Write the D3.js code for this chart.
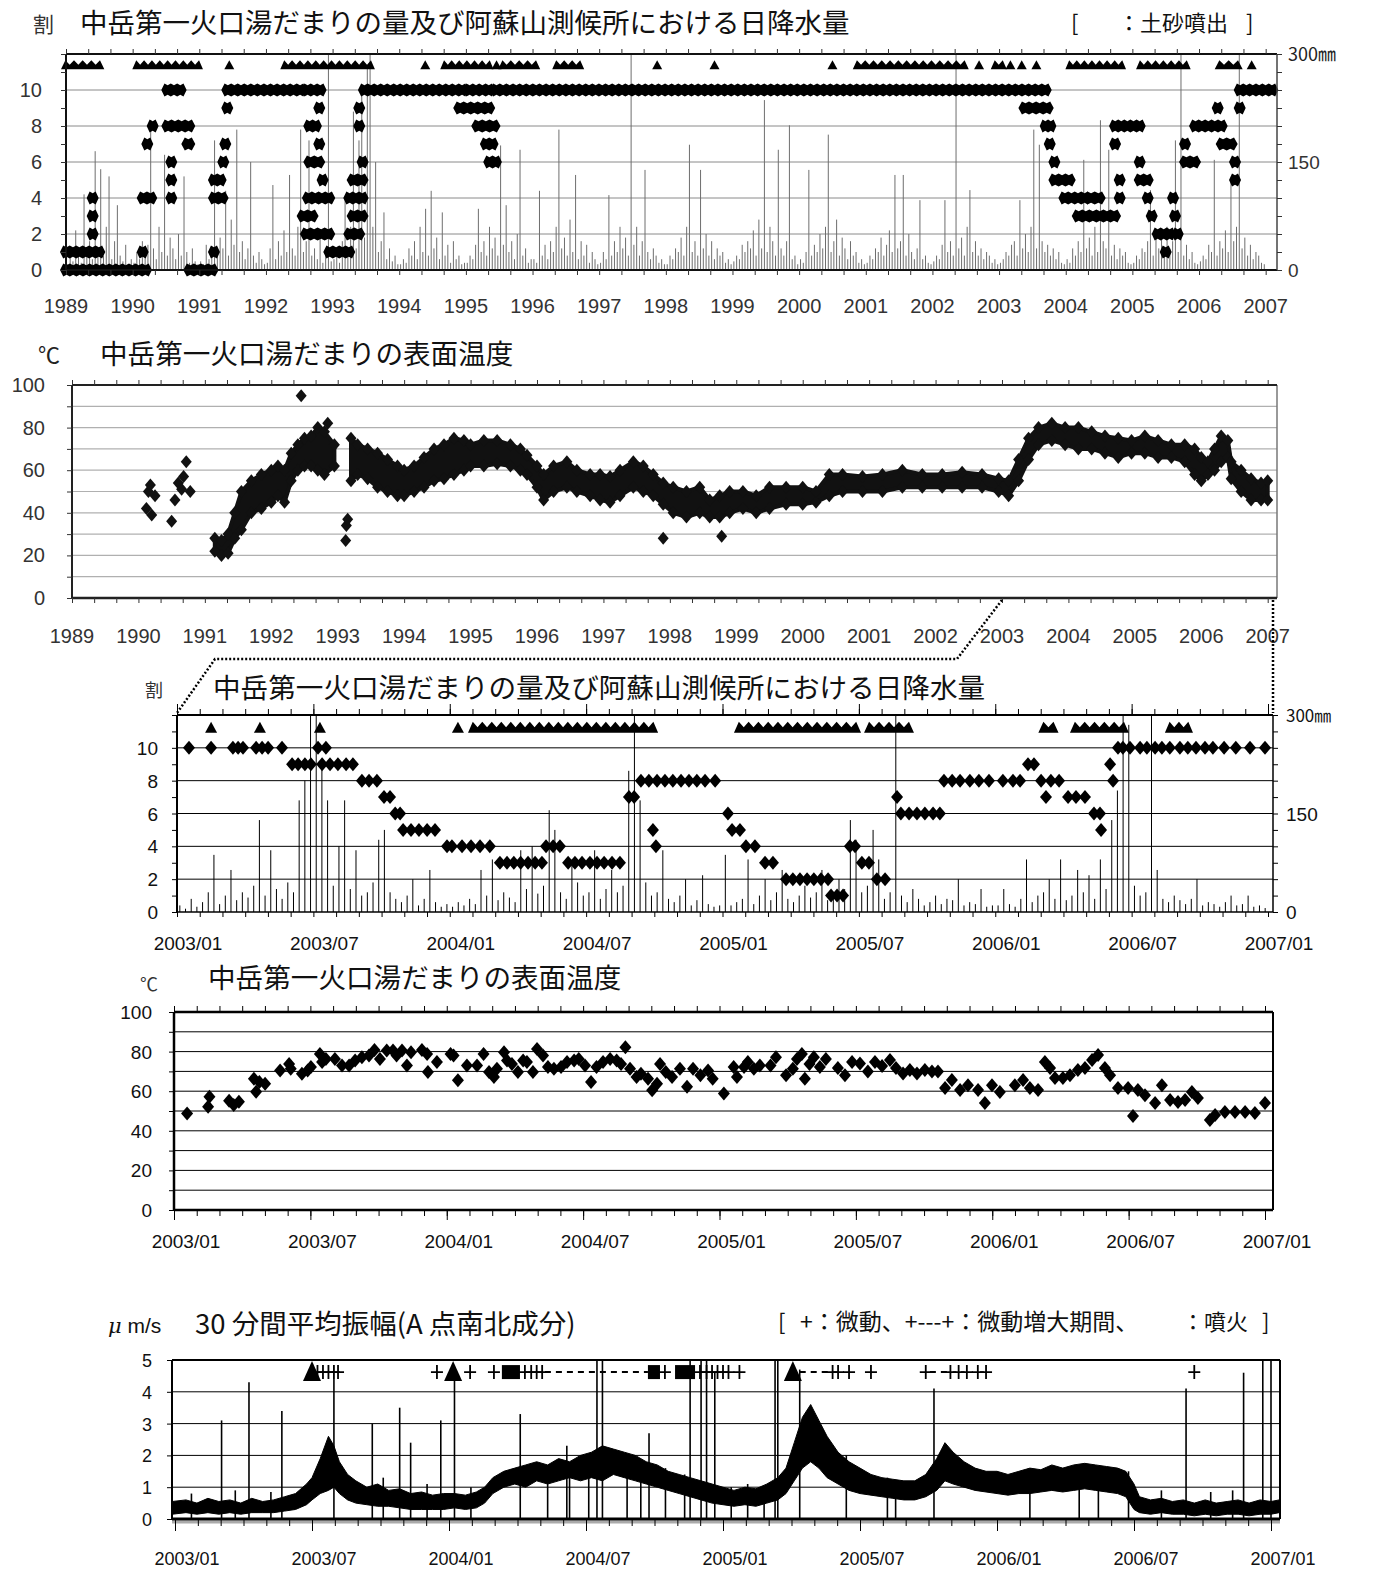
<!DOCTYPE html>
<html>
<head>
<meta charset="utf-8">
<script src="https://cdn.jsdelivr.net/npm/d3@7"></script>
<style>
  body { margin: 0; background: #fff; }
  text { font-family: "Liberation Sans", Arial, sans-serif; }
  .jp { font-family: "Noto Sans CJK JP", "Noto Sans CJK SC", sans-serif; }
  .narrow { font-family: "Liberation Sans Narrow", "Liberation Sans", Arial, sans-serif; }
</style>
</head>
<body>
<svg id="chart" width="1373" height="1585"></svg>
<script>
// ---------- data (decimal years) ----------
var yearLabels = ['1989','1990','1991','1992','1993','1994','1995','1996','1997','1998','1999','2000','2001','2002','2003','2004','2005','2006','2007'];
var monthLabels = ['2003/01','2003/07','2004/01','2004/07','2005/01','2005/07','2006/01','2006/07','2007/01'];

// panel 1: lake water level runs [from, to, level(割)]
var levelRuns = [
  [1989.0,1990.2,0],[1989.0,1989.5,1],[1989.4,1989.4,2],[1989.4,1989.4,3],[1989.4,1989.4,4],
  [1990.15,1990.15,1],[1990.15,1990.28,4],[1990.22,1990.22,7],[1990.3,1990.3,8],
  [1990.52,1990.72,10],[1990.52,1990.85,8],[1990.58,1990.58,6],[1990.58,1990.58,5],[1990.58,1990.58,4],[1990.82,1990.85,7],
  [1990.85,1991.2,0],[1991.22,1991.32,5],[1991.22,1991.35,4],[1991.22,1991.22,1],[1991.36,1991.36,6],[1991.39,1991.39,7],[1991.42,1991.42,9],
  [1991.42,1992.52,10],[1992.62,1992.82,10],
  [1992.55,1992.7,3],[1992.6,1992.95,2],[1992.63,1992.95,4],[1992.85,1992.85,5],[1992.65,1992.8,6],[1992.8,1992.8,7],[1992.65,1992.75,8],[1992.8,1992.8,9],
  [1992.95,1993.25,1],[1993.25,1993.4,2],[1993.3,1993.45,3],[1993.25,1993.45,4],[1993.3,1993.45,5],[1993.45,1993.45,6],[1993.4,1993.4,8],[1993.4,1993.4,9],
  [1993.47,1994.95,10],[1995.05,1995.35,10],[1994.9,1995.35,9],[1995.17,1995.43,8],[1995.3,1995.4,7],[1995.35,1995.45,6],
  [1995.45,2003.7,10],
  [2003.38,2003.73,9],[2003.7,2003.77,8],[2003.76,2003.76,7],[2003.83,2003.83,6],[2003.83,2004.06,5],[2003.98,2004.29,4],[2004.18,2004.74,3],[2004.36,2004.51,4],
  [2004.74,2005.11,8],[2004.74,2004.74,7],[2004.81,2004.81,5],[2004.81,2004.81,4],[2005.11,2005.11,6],[2005.11,2005.23,5],[2005.23,2005.23,4],[2005.29,2005.29,3],
  [2005.38,2005.56,2],[2005.5,2005.5,1],[2005.61,2005.61,4],[2005.64,2005.64,3],[2005.68,2005.68,2],
  [2005.79,2005.79,7],[2005.79,2005.94,6],[2005.94,2006.34,8],[2006.28,2006.28,9],[2006.34,2006.49,7],[2006.54,2006.54,6],[2006.54,2006.54,5],
  [2006.61,2006.61,9],[2006.61,2007.1,10]
];
// panel 1: mud ejection (土砂噴出) runs [from, to]
var mudRuns1 = [
  [1989.0,1989.5],[1990.07,1990.98],[1991.45,1991.45],[1992.29,1993.56],[1994.39,1994.39],[1994.69,1995.34],[1995.46,1995.46],
  [1995.56,1996.04],[1996.37,1996.7],[1997.87,1997.87],[1998.73,1998.73],[2000.5,2000.5],[2000.88,2002.47],[2002.7,2002.7],
  [2002.95,2003.04],[2003.17,2003.17],[2003.34,2003.34],[2003.56,2003.56],[2004.07,2004.83],[2005.13,2005.8],[2006.31,2006.58],[2006.79,2006.79]
];
// panel 1: daily rainfall, peak per half month (mm)
var rainYears = [1989,1990,1991,1992,1993,1994,1995,1996,1997,1998,1999,2000,2001,2002,2003,2004,2005,2006];
var rain89 = [8,30,12,55,20,10,105,25,40,15,165,30,140,20,60,130,15,40,90,20,12,35,8,15];
var rain90 = [10,25,15,40,20,35,208,30,15,60,25,160,20,45,30,15,50,20,130,25,10,30,12,8];
var rain91 = [12,8,35,15,25,180,20,45,30,110,20,70,35,195,25,40,15,30,150,20,10,25,15,8];
var rain92 = [10,30,118,15,40,20,55,25,132,30,20,60,195,25,40,180,20,30,15,45,10,25,330,12];
var rain93 = [15,25,10,40,97,20,60,220,30,180,250,45,280,330,60,150,25,40,80,15,30,12,20,8];
var rain94 = [8,15,10,30,20,40,15,60,25,85,20,110,30,45,15,80,20,35,10,40,15,20,8,10];
var rain95 = [10,20,15,35,85,25,40,20,60,30,45,20,173,35,90,25,40,15,50,167,20,30,10,15];
var rain96 = [15,10,110,20,35,15,40,25,60,195,30,45,20,70,25,132,15,40,20,35,10,25,15,8];
var rain97 = [10,25,15,104,20,40,25,60,30,45,20,330,35,60,20,40,139,25,15,30,20,10,15,8];
var rain98 = [8,20,15,30,25,45,20,60,174,25,40,20,139,30,50,20,40,15,30,20,25,10,15,8];
var rain99 = [12,20,15,35,25,40,30,55,20,70,30,236,25,60,40,20,167,30,20,40,201,15,20,8];
var rain00 = [15,10,25,139,20,35,25,50,30,60,188,25,40,70,20,45,30,15,40,20,25,10,15,8];
var rain01 = [10,20,15,30,25,45,20,35,55,25,132,30,40,132,20,50,25,15,30,97,15,20,10,8];
var rain02 = [12,20,15,35,97,25,40,20,330,30,45,20,60,111,25,40,20,30,15,25,20,10,15,8];
var rain03 = [10,15,25,20,35,40,20,97,30,50,25,60,195,30,174,40,25,35,20,30,15,25,10,8];
var rain04 = [15,10,30,20,40,25,153,30,45,20,60,25,208,40,30,167,20,35,15,30,20,25,10,8];
var rain05 = [10,20,15,30,25,40,111,20,45,30,55,25,60,30,40,180,25,330,20,35,15,25,10,8];
var rain06 = [12,20,15,35,25,153,20,40,30,55,25,125,40,60,330,30,45,20,35,15,25,20,10,8];

// panel 2: surface temperature, dense cloud [year, low, high]; null = no data
var tempBand = [
  [1991.15,22,28],[1991.25,20,27],[1991.35,21,30],[1991.45,28,40],[1991.55,32,50],[1991.7,40,55],[1991.85,42,58],[1992.0,45,60],
  [1992.1,48,62],[1992.2,45,60],[1992.3,55,68],[1992.4,60,72],[1992.5,62,75],[1992.6,62,76],[1992.7,60,80],[1992.8,58,78],[1992.95,62,72],
  [1993.05,null,null],
  [1993.2,55,75],[1993.3,58,72],[1993.45,56,70],[1993.6,52,68],[1993.75,50,65],[1993.9,48,62],[1994.0,48,60],[1994.15,50,62],[1994.3,52,66],
  [1994.45,55,70],[1994.6,56,72],[1994.75,58,75],[1994.9,60,74],[1995.0,62,72],[1995.2,62,74],[1995.4,63,74],[1995.6,62,72],[1995.75,60,70],
  [1995.85,58,67],[1996.0,52,62],[1996.1,46,58],[1996.25,50,62],[1996.45,52,64],[1996.6,50,60],[1996.8,48,58],[1996.95,46,58],[1997.1,45,57],
  [1997.25,48,60],[1997.45,52,64],[1997.6,50,62],[1997.75,48,58],[1997.9,44,54],[1998.05,40,52],[1998.25,38,50],[1998.45,40,52],[1998.6,38,46],
  [1998.75,38,48],[1998.9,40,50],[1999.1,42,50],[1999.3,40,48],[1999.5,42,52],[1999.75,44,52],[2000.0,44,52],[2000.2,45,50],[2000.4,48,58],
  [2000.6,50,58],[2000.9,50,57],[2001.2,50,58],[2001.5,52,60],[2001.8,52,58],[2002.1,52,58],[2002.4,52,59],[2002.7,52,58],[2002.95,50,56],
  [2003.1,48,55],[2003.25,55,65],[2003.4,65,75],[2003.55,72,80],[2003.75,74,82],[2003.95,72,80],[2004.15,70,80],[2004.35,70,78],[2004.55,68,76],
  [2004.75,66,75],[2004.95,68,74],[2005.15,68,76],[2005.35,66,74],[2005.55,66,72],[2005.75,64,72],[2005.9,58,70],[2006.0,55,66],[2006.1,58,64],
  [2006.2,60,70],[2006.3,64,76],[2006.4,66,74],[2006.45,56,64],[2006.6,50,60],[2006.75,46,56],[2006.9,46,54],[2007.0,46,55]
];
var tempScatter = [
  [1990.12,42],[1990.15,50],[1990.18,53],[1990.2,39],[1990.25,48],[1990.5,36],[1990.55,46],[1990.6,54],[1990.65,51],[1990.68,57],
  [1990.72,64],[1990.78,50],[1992.45,95],[1992.85,82],[1993.12,27],[1993.13,34],[1993.15,37],[1997.9,28],[1998.78,29]
];

// panel 3: water level 2003-2006 [year, level]
var level3 = [
  [2003.044,10],[2003.125,10],[2003.205,10],[2003.224,10],[2003.242,10],[2003.29,10],[2003.312,10],[2003.334,10],[2003.385,10],[2003.517,10],[2003.546,10],
  [2003.422,9],[2003.444,9],[2003.469,9],[2003.491,9],[2003.532,9],[2003.561,9],[2003.59,9],[2003.62,9],[2003.645,9],
  [2003.678,8],[2003.704,8],[2003.733,8],[2003.759,7],[2003.781,7],[2003.8,6],[2003.818,6],
  [2003.829,5],[2003.858,5],[2003.887,5],[2003.917,5],[2003.946,5],
  [2003.99,4],[2004.008,4],[2004.045,4],[2004.078,4],[2004.111,4],[2004.147,4],
  [2004.184,3],[2004.21,3],[2004.235,3],[2004.26,3],[2004.287,3],[2004.313,3],[2004.338,3],
  [2004.353,4],[2004.379,4],[2004.404,4],
  [2004.434,3],[2004.459,3],[2004.485,3],[2004.514,3],[2004.54,3],[2004.566,3],[2004.595,3],[2004.624,3],
  [2004.657,7],[2004.676,7],
  [2004.701,8],[2004.73,8],[2004.76,8],[2004.789,8],[2004.818,8],[2004.848,8],[2004.877,8],[2004.906,8],[2004.936,8],[2004.973,8],
  [2004.745,5],[2004.756,4],
  [2005.02,6],[2005.035,5],[2005.064,5],[2005.086,4],[2005.119,4],[2005.156,3],[2005.185,3],
  [2005.233,2],[2005.258,2],[2005.284,2],[2005.31,2],[2005.335,2],[2005.361,2],[2005.387,2],
  [2005.398,1],[2005.42,1],[2005.442,1],[2005.467,4],[2005.486,4],[2005.511,3],[2005.537,3],[2005.566,2],[2005.596,2],
  [2005.64,7],[2005.654,6],[2005.684,6],[2005.713,6],[2005.742,6],[2005.772,6],[2005.797,6],
  [2005.812,8],[2005.842,8],[2005.871,8],[2005.907,8],[2005.94,8],[2005.977,8],[2006.028,8],[2006.065,8],[2006.091,8],
  [2006.12,9],[2006.142,9],[2006.168,8],[2006.204,8],[2006.234,8],[2006.186,7],
  [2006.267,7],[2006.296,7],[2006.329,7],[2006.362,6],[2006.384,6],[2006.388,5],[2006.421,9],[2006.432,8],
  [2006.45,10],[2006.468,10],[2006.494,10],[2006.531,10],[2006.556,10],[2006.586,10],[2006.611,10],[2006.64,10],[2006.677,10],
  [2006.706,10],[2006.736,10],[2006.769,10],[2006.798,10],[2006.839,10],[2006.882,10],[2006.934,10],[2006.989,10]
];
var mudRuns3 = [
  [2003.125,2003.125],[2003.304,2003.304],[2003.524,2003.524],[2004.03,2004.03],[2004.089,2004.742],[2005.064,2005.486],
  [2005.541,2005.68],[2006.18,2006.21],[2006.296,2006.468],[2006.644,2006.703]
];
// panel 3: rainfall, peak per week (mm)
var rain3Years = [2003,2004,2005,2006];
var rain3_03 = [10,5,20,8,15,30,87,12,25,64,18,30,22,40,140,25,94,35,20,45,30,170,200,330,330,230,170,40,100,170,35,94,25,30,45,110,125,30,20,15,25,50,10,20,64,15,8,12];
var rain3_04 = [8,15,10,20,12,64,25,80,18,30,22,15,94,35,100,28,40,155,125,30,20,80,45,25,30,94,20,35,64,30,40,215,330,170,45,25,30,94,20,15,25,50,10,18,56,12,8,10];
var rain3_05 = [87,10,15,20,80,12,25,50,18,30,64,20,15,25,40,22,30,64,18,25,50,35,140,110,30,40,125,80,20,30,330,25,15,35,20,10,15,25,12,20,18,50,10,15,12,35,8,10];
var rain3_06 = [10,35,12,8,20,80,15,25,30,50,20,80,18,25,64,30,56,20,80,35,140,185,330,285,40,25,30,330,64,20,15,25,18,12,20,50,10,15,12,8,15,25,10,12,25,8,10,6];

// panel 4: surface temperature 2003-2006 [year, degC]
var temp4 = [
  [2003.048,48.8],[2003.125,52.2],[2003.13,57.2],[2003.202,55.2],[2003.219,53],[2003.238,54.7],[2003.293,66.3],[2003.301,59.7],[2003.313,64.7],
  [2003.334,63.8],[2003.389,70.5],[2003.422,73.8],[2003.428,71.3],[2003.469,68.8],[2003.49,70.5],[2003.502,72.2],[2003.535,78.8],[2003.543,74.7],
  [2003.557,76.3],[2003.59,76.3],[2003.616,73],[2003.642,73],[2003.664,75.5],[2003.689,77.2],[2003.715,78],[2003.735,80.8],[2003.755,76.3],
  [2003.78,80.5],[2003.803,80.5],[2003.816,78],[2003.836,80.5],[2003.854,73],[2003.869,79.7],[2003.909,80.8],[2003.928,78.8],[2003.931,69.7],
  [2003.964,74.7],[2004.014,78.8],[2004.025,78],[2004.041,65.5],[2004.074,73],[2004.111,73],[2004.135,78.8],[2004.155,69.7],[2004.173,67.2],
  [2004.184,71.3],[2004.21,79.7],[2004.221,75.5],[2004.239,73.8],[2004.261,69.7],[2004.28,75.5],[2004.294,74.7],[2004.316,69.7],[2004.331,81.3],
  [2004.353,78],[2004.371,72.2],[2004.393,71.3],[2004.419,72.2],[2004.441,74.7],[2004.467,75.5],[2004.484,76.3],[2004.507,73],[2004.529,64.7],
  [2004.549,72.2],[2004.573,74.7],[2004.599,76.3],[2004.623,75.5],[2004.639,73.8],[2004.655,82.2],[2004.672,71.3],[2004.696,67.2],[2004.712,68.8],
  [2004.738,66.3],[2004.753,60.5],[2004.771,63.8],[2004.782,73.8],[2004.803,69.7],[2004.826,67.2],[2004.855,71.3],[2004.881,62.2],[2004.903,71.3],
  [2004.93,68],[2004.958,70.5],[2004.975,66.3],[2005.016,58.8],[2005.052,72.2],[2005.064,67.2],[2005.09,72.2],[2005.104,74.7],[2005.126,71.3],
  [2005.148,73],[2005.187,73],[2005.207,77.2],[2005.244,68],[2005.269,71.3],[2005.284,76.3],[2005.302,78.8],[2005.313,66.3],[2005.33,73.8],
  [2005.346,77.2],[2005.368,72.2],[2005.39,76.3],[2005.434,71.7],[2005.46,68],[2005.486,74.7],[2005.515,74],[2005.544,70],[2005.57,74.7],
  [2005.596,72.7],[2005.625,75.8],[2005.647,71.7],[2005.673,69],[2005.698,70.7],[2005.724,69],[2005.753,70.7],[2005.779,70],[2005.801,70],
  [2005.827,61.6],[2005.852,65.7],[2005.882,60.6],[2005.911,63],[2005.948,60.6],[2005.973,54],[2005.999,63],[2006.028,59.6],[2006.083,63],
  [2006.113,65.7],[2006.138,61.6],[2006.168,60.6],[2006.193,74.7],[2006.212,71.7],[2006.23,66.7],[2006.259,66.7],[2006.285,68],[2006.314,70.7],
  [2006.34,71.7],[2006.366,75.8],[2006.388,78.3],[2006.413,71.7],[2006.432,68],[2006.461,61.6],[2006.498,61.6],[2006.516,47.5],[2006.534,60.6],
  [2006.56,58],[2006.597,54],[2006.622,63],[2006.652,55.6],[2006.681,54.5],[2006.707,55.6],[2006.732,59.6],[2006.754,56.6],[2006.798,45.5],
  [2006.817,48],[2006.853,49.5],[2006.89,49.5],[2006.927,49.5],[2006.963,49],[2007.0,54]
];

// panel 5: 30-min mean amplitude envelope [year, low, high] (μm/s)
var ampBand = [
  [2002.99,0.15,0.55],[2003.04,0.2,0.6],[2003.08,0.15,0.5],[2003.12,0.2,0.65],[2003.16,0.15,0.55],[2003.2,0.2,0.6],[2003.24,0.15,0.5],
  [2003.28,0.2,0.65],[2003.32,0.2,0.55],[2003.36,0.2,0.6],[2003.4,0.25,0.7],[2003.44,0.3,0.8],[2003.48,0.45,1.1],[2003.5,0.6,1.3],
  [2003.53,0.8,1.9],[2003.56,0.9,2.6],[2003.58,1.0,2.3],[2003.6,0.8,1.8],[2003.63,0.6,1.4],[2003.66,0.5,1.2],[2003.7,0.45,1.0],
  [2003.74,0.4,1.1],[2003.78,0.4,0.9],[2003.82,0.35,0.95],[2003.86,0.3,0.8],[2003.9,0.3,0.85],[2003.94,0.3,0.75],[2003.98,0.3,0.8],
  [2004.02,0.35,0.8],[2004.06,0.3,0.75],[2004.1,0.35,0.85],[2004.13,0.5,1.0],[2004.16,0.8,1.3],[2004.2,1.0,1.5],[2004.24,1.1,1.6],
  [2004.28,1.0,1.7],[2004.32,1.2,1.8],[2004.36,1.1,1.7],[2004.4,1.2,1.9],[2004.44,1.3,1.8],[2004.48,1.2,2.0],[2004.52,1.3,2.1],
  [2004.56,1.2,2.3],[2004.6,1.4,2.2],[2004.64,1.3,2.1],[2004.68,1.2,2.0],[2004.72,1.1,1.8],[2004.76,1.0,1.7],[2004.8,0.9,1.5],
  [2004.84,0.8,1.4],[2004.88,0.7,1.3],[2004.92,0.6,1.2],[2004.96,0.5,1.1],[2005.0,0.45,1.0],[2005.04,0.4,0.9],[2005.08,0.45,1.0],
  [2005.12,0.4,0.95],[2005.16,0.5,1.1],[2005.2,0.6,1.3],[2005.23,0.8,1.6],[2005.26,1.2,2.4],[2005.29,1.6,3.2],[2005.32,1.8,3.6],
  [2005.35,1.6,3.1],[2005.38,1.3,2.6],[2005.42,1.1,2.1],[2005.46,0.9,1.8],[2005.5,0.8,1.6],[2005.54,0.75,1.4],[2005.58,0.7,1.3],
  [2005.62,0.65,1.25],[2005.66,0.6,1.2],[2005.7,0.6,1.2],[2005.74,0.7,1.4],[2005.78,0.9,1.9],[2005.81,1.2,2.4],[2005.84,1.1,2.1],
  [2005.88,1.0,1.8],[2005.92,0.9,1.6],[2005.96,0.85,1.5],[2006.0,0.8,1.5],[2006.04,0.75,1.4],[2006.08,0.8,1.5],[2006.12,0.8,1.6],
  [2006.16,0.85,1.55],[2006.2,0.9,1.7],[2006.24,0.85,1.6],[2006.28,0.9,1.7],[2006.32,0.95,1.75],[2006.36,0.9,1.7],[2006.4,0.85,1.65],
  [2006.44,0.8,1.6],[2006.47,0.7,1.5],[2006.5,0.3,1.1],[2006.52,0.2,0.7],[2006.56,0.15,0.6],[2006.6,0.2,0.65],[2006.64,0.15,0.55],
  [2006.68,0.15,0.6],[2006.72,0.1,0.5],[2006.76,0.15,0.6],[2006.8,0.1,0.5],[2006.84,0.15,0.55],[2006.88,0.15,0.6],[2006.92,0.1,0.5],
  [2006.96,0.15,0.6],[2007.0,0.15,0.55],[2007.03,0.2,0.6]
];
// single spikes [year, value]
var ampSpikes = [
  [2003.17,3.1],[2003.27,4.3],[2003.39,3.4],[2003.58,4.4],[2003.72,3.0],[2003.82,3.5],[2003.86,2.4],[2003.97,3.1],[2004.02,4.6],
  [2004.26,3.3],[2004.43,2.3],[2004.54,5.3],[2004.56,5.3],[2004.73,2.7],[2004.88,5.3],[2004.92,5.3],[2004.94,5.3],[2004.97,4.6],
  [2005.19,5.3],[2005.2,5.3],[2005.28,4.7],[2005.77,4.1],[2006.69,4.1],[2006.9,4.6],[2006.97,5.3],[2007.0,5.3],
  [2004.36,1.6],[2004.44,1.7],[2004.51,2.0],[2004.65,1.9],[2004.7,1.8],[2004.79,1.6],[2004.86,1.4],[2005.03,1.0],[2005.09,1.1],
  [2005.15,1.0],[2005.45,2.0],[2005.6,1.3],[2005.63,1.2],[2006.12,1.5],[2006.3,1.6],[2006.37,1.6],[2006.48,1.5],
  [2003.06,0.8],[2003.22,0.9],[2003.35,0.85],[2003.76,1.3],[2003.92,1.1],[2004.08,1.0],[2006.6,0.9],[2006.78,0.85],[2006.86,0.9]
];
var tremorPlus = [2003.52,2003.54,2003.56,2003.58,2003.595,2003.956,2004.077,2004.164,2004.277,2004.3,2004.32,2004.34,2004.788,
  2004.916,2004.94,2004.96,2004.98,2005.0,2005.02,2005.06,2005.4,2005.42,2005.46,2005.54,2005.74,2005.83,2005.86,2005.89,2005.93,2005.96,2006.72];
var tremorBlocks = [[2004.193,2004.259],[2004.726,2004.77],[2004.825,2004.898]];
var tremorPeriods = [[2004.35,2004.726],[2005.28,2005.4],[2005.755,2005.83]];
var eruptions = [2003.5,2004.015,2005.255];

// ---------- drawing ----------
var svg = d3.select('#chart');
svg.append('rect').attr('width', 1373).attr('height', 1585).attr('fill', '#fff');

function hline(g, x0, x1, y, color, w) {
  g.append('line').attr('x1', x0).attr('x2', x1).attr('y1', y).attr('y2', y).attr('stroke', color).attr('stroke-width', w);
}
function vline(g, x, y0, y1, color, w) {
  g.append('line').attr('x1', x).attr('x2', x).attr('y1', y0).attr('y2', y1).attr('stroke', color).attr('stroke-width', w);
}
function tickAxis(g, axis, tx, ty, color) {
  g.append('g').attr('transform', 'translate(' + tx + ',' + ty + ')')
    .call(axis.tickSizeOuter(0).tickFormat(''))
    .attr('color', color)
    .call(function(s){ s.select('.domain').remove(); });
}
// a run of touching diamonds, drawn as one scalloped chain
function runPath(x, y, w, h) {
  return function(d) {
    var x0 = x(d[0]) - w, x1 = x(d[1]) + w, yy = y(d[2]);
    var n = Math.max(1, Math.round((x1 - x0) / (1.1 * w))), st = (x1 - x0) / n;
    var top = 'M' + x0 + ',' + yy, bot = '';
    for (var i = 0; i < n; i++) {
      var xa = x0 + st * (i + 0.5), xb = x0 + st * (i + 1);
      top += 'L' + xa + ',' + (yy - h) + 'L' + xb + ',' + (i === n - 1 ? yy : yy - h * 0.72);
    }
    for (var j = n - 1; j >= 0; j--) {
      var xc = x0 + st * (j + 0.5), xd = x0 + st * j;
      bot += 'L' + xc + ',' + (yy + h) + 'L' + xd + ',' + (j === 0 ? yy : yy + h * 0.72);
    }
    return top + bot + 'Z';
  };
}
// a run of touching triangles, drawn with a sawtooth top
function triRunPath(x, yc, w, h) {
  return function(d) {
    var x0 = x(d[0]) - w, x1 = x(d[1]) + w;
    var n = Math.max(1, Math.round((x1 - x0) / (1.6 * w))), st = (x1 - x0) / n;
    var p = 'M' + x0 + ',' + (yc + h / 2);
    for (var i = 0; i < n; i++) {
      p += 'L' + (x0 + st * (i + 0.5)) + ',' + (yc - h / 2) + 'L' + (x0 + st * (i + 1)) + ',' + (i === n - 1 ? yc + h / 2 : yc);
    }
    return p + 'Z';
  };
}
function diamond(w, h) { return 'M0,' + (-h) + 'L' + w + ',0L0,' + h + 'L' + (-w) + ',0Z'; }
function addText(g, x, y, str, size, anchor, cls, fill) {
  return g.append('text').attr('x', x).attr('y', y).attr('font-size', size)
    .attr('text-anchor', anchor || 'start').attr('class', cls || null).attr('fill', fill || '#111').text(str);
}

// ===== panel 1 =====
var p1 = { l: 66, r: 1277, t: 54, b: 270 };
var x1 = d3.scaleLinear().domain([1989, 2007.17]).range([p1.l, p1.r]);
var y1 = d3.scaleLinear().domain([0, 12]).range([p1.b, p1.t]);
var r1 = d3.scaleLinear().domain([0, 300]).range([p1.b, p1.t]).clamp(true);
var g1 = svg.append('g');

[2, 4, 6, 8, 10].forEach(function(v){ hline(g1, p1.l, p1.r, y1(v), '#8a8a8a', 1); });

var rain1 = [rain89, rain90, rain91, rain92, rain93, rain94, rain95, rain96, rain97, rain98, rain99, rain00, rain01, rain02, rain03, rain04, rain05, rain06];
var rainPts1 = [];
rain1.forEach(function(arr, k){
  arr.forEach(function(v, i){ rainPts1.push([rainYears[k] + (i + 0.5) / 24, v]); });
});
g1.selectAll('line.rain').data(rainPts1).enter().append('line')
  .attr('x1', function(d){ return x1(d[0]); }).attr('x2', function(d){ return x1(d[0]); })
  .attr('y1', p1.b).attr('y2', function(d){ return r1(d[1]); })
  .attr('stroke', '#6e6e6e').attr('stroke-width', 1);

g1.selectAll('path.lev').data(levelRuns).enter().append('path')
  .attr('d', runPath(x1, y1, 6, 6.5)).attr('fill', '#000');
g1.selectAll('path.mud').data(mudRuns1).enter().append('path')
  .attr('d', triRunPath(x1, y1(11.4), 5, 9)).attr('fill', '#000');

hline(g1, p1.l, p1.r, p1.t, '#111', 2);
hline(g1, p1.l, p1.r, p1.b, '#111', 2);
vline(g1, p1.l, p1.t, p1.b, '#111', 2);
vline(g1, p1.r, p1.t, p1.b, '#444', 1.5);
var q1 = d3.range(0, 18 * 3 + 1).map(function(i){ return 1989 + i / 3; });
tickAxis(g1, d3.axisBottom(x1).tickValues(q1).tickSize(5), 0, p1.b, '#333');
tickAxis(g1, d3.axisTop(x1).tickValues(q1).tickSize(5), 0, p1.t, '#333');
tickAxis(g1, d3.axisLeft(y1).tickValues(d3.range(0, 13)).tickSize(5), p1.l, 0, '#333');
tickAxis(g1, d3.axisRight(r1).tickValues(d3.range(0, 301, 25)).tickSize(5), p1.r, 0, '#333');

[0, 2, 4, 6, 8, 10].forEach(function(v){ addText(g1, 42, y1(v) + 7, v, 20, 'end', null, '#333'); });
addText(g1, 1288, r1(300) + 7, '300㎜', 18, 'start', 'jp', '#222');
addText(g1, 1288, r1(150) + 7, '150', 19, 'start', null, '#333');
addText(g1, 1288, r1(0) + 7, '0', 19, 'start', null, '#333');
yearLabels.forEach(function(s, i){ addText(g1, x1(1989 + i), 313, s, 20, 'middle', null, '#333'); });
addText(g1, 33, 32, '割', 21, 'start', 'jp', '#333');
addText(g1, 80, 33, '中岳第一火口湯だまりの量及び阿蘇山測候所における日降水量', 27.5, 'start', 'jp');
addText(g1, 1071, 31, '[', 22, 'start', 'jp');
addText(g1, 1118, 31, '：土砂噴出', 22, 'start', 'jp');
addText(g1, 1246, 31, ']', 22, 'start', 'jp');

// ===== panel 2 =====
var p2 = { l: 72, r: 1277, t: 385, b: 598 };
var x2 = d3.scaleLinear().domain([1989, 2007.14]).range([p2.l, p2.r]);
var y2 = d3.scaleLinear().domain([0, 100]).range([p2.b, p2.t]);
var g2 = svg.append('g');
d3.range(10, 100, 10).forEach(function(v){ hline(g2, p2.l, p2.r, y2(v), '#b0b0b0', 1.2); });
vline(g2, p2.r, p2.t, p2.b, '#777', 1.5);

var area2 = d3.area().defined(function(d){ return d[1] != null; })
  .x(function(d){ return x2(d[0]); }).y0(function(d){ return y2(d[1]); }).y1(function(d){ return y2(d[2]); });
g2.append('path').datum(tempBand).attr('d', area2).attr('fill', '#111')
  .attr('stroke', '#111').attr('stroke-width', 4).attr('stroke-linejoin', 'round');
var edge2 = [];
tempBand.forEach(function(d){ if (d[1] != null) { edge2.push([d[0], d[1]]); edge2.push([d[0], d[2]]); } });
g2.selectAll('path.edge').data(edge2.concat(tempScatter)).enter().append('path')
  .attr('d', diamond(5.5, 6.5)).attr('fill', '#111')
  .attr('transform', function(d){ return 'translate(' + x2(d[0]) + ',' + y2(d[1]) + ')'; });

hline(g2, p2.l, p2.r, p2.t, '#222', 2);
hline(g2, p2.l, p2.r, p2.b, '#222', 2.5);
vline(g2, p2.l, p2.t, p2.b, '#222', 2);
tickAxis(g2, d3.axisBottom(x2).tickValues(q1).tickSize(5), 0, p2.b, '#333');
tickAxis(g2, d3.axisTop(x2).tickValues(q1).tickSize(5), 0, p2.t, '#333');
tickAxis(g2, d3.axisLeft(y2).tickValues(d3.range(0, 101, 10)).tickSize(5), p2.l, 0, '#333');
[0, 20, 40, 60, 80, 100].forEach(function(v){ addText(g2, 45, y2(v) + 7, v, 20, 'end', null, '#333'); });
yearLabels.forEach(function(s, i){ addText(g2, x2(1989 + i), 643, s, 20, 'middle', null, '#333'); });
addText(g2, 38, 363, '℃', 22, 'start', 'jp', '#222');
addText(g2, 100, 364, '中岳第一火口湯だまりの表面温度', 27.6, 'start', 'jp');

// ===== panel 3 =====
var p3 = { l: 177, r: 1273, t: 715, b: 912 };
var x3 = d3.scaleLinear().domain([2003, 2007]).range([177, 1268]);
var y3 = d3.scaleLinear().domain([0, 12]).range([p3.b, p3.t]);
var r3 = d3.scaleLinear().domain([0, 300]).range([p3.b, p3.t]).clamp(true);
var g3 = svg.append('g');
[2, 4, 6, 8, 10].forEach(function(v){ hline(g3, p3.l, p3.r, y3(v), '#000', 1); });

var rain3 = [rain3_03, rain3_04, rain3_05, rain3_06];
var rainPts3 = [];
rain3.forEach(function(arr, k){
  arr.forEach(function(v, i){ rainPts3.push([rain3Years[k] + (i + 0.5) / 48, v]); });
});
g3.selectAll('line.rain').data(rainPts3).enter().append('line')
  .attr('x1', function(d){ return x3(d[0]); }).attr('x2', function(d){ return x3(d[0]); })
  .attr('y1', p3.b).attr('y2', function(d){ return r3(d[1]); })
  .attr('stroke', '#000').attr('stroke-width', 1);

g3.selectAll('path.lev').data(level3).enter().append('path')
  .attr('d', diamond(6, 7)).attr('fill', '#000')
  .attr('transform', function(d){ return 'translate(' + x3(d[0]) + ',' + y3(d[1]) + ')'; });
g3.selectAll('path.mud').data(mudRuns3).enter().append('path')
  .attr('d', triRunPath(x3, y3(11.25), 6, 11)).attr('fill', '#000');

hline(g3, p3.l, p3.r, p3.t, '#000', 2);
hline(g3, p3.l, p3.r, p3.b, '#000', 1.5);
vline(g3, p3.l, p3.t, p3.b, '#000', 2);
vline(g3, p3.r, p3.t, p3.b, '#000', 1.5);
var m3 = d3.range(0, 49).map(function(i){ return 2003 + i / 12; });
var h3 = d3.range(0, 9).map(function(i){ return 2003 + i / 2; });
tickAxis(g3, d3.axisTop(x3).tickValues(m3).tickSize(6), 0, p3.t, '#000');
tickAxis(g3, d3.axisTop(x3).tickValues(h3).tickSize(11), 0, p3.t, '#000');
tickAxis(g3, d3.axisBottom(x3).tickValues(m3).tickSize(5), 0, p3.b, '#000');
tickAxis(g3, d3.axisLeft(y3).tickValues(d3.range(0, 13)).tickSize(5), p3.l, 0, '#000');
tickAxis(g3, d3.axisRight(r3).tickValues(d3.range(0, 301, 25)).tickSize(5), p3.r, 0, '#000');
[0, 2, 4, 6, 8, 10].forEach(function(v){ addText(g3, 158, y3(v) + 7, v, 19, 'end'); });
addText(g3, 1286, r3(300) + 7, '300㎜', 17, 'start', 'jp');
addText(g3, 1286, r3(150) + 7, '150', 19);
addText(g3, 1286, r3(0) + 7, '0', 19);
monthLabels.forEach(function(s, i){ addText(g3, x3(2003 + i / 2) + 11, 950, s, 19, 'middle'); });
addText(g3, 145, 697, '割', 18, 'start', 'jp', '#333');
addText(g3, 213, 698, '中岳第一火口湯だまりの量及び阿蘇山測候所における日降水量', 27.6, 'start', 'jp');

// dotted zoom connectors between panel 2 and panel 3
var dots = svg.append('g').attr('fill', 'none').attr('stroke', '#000').attr('stroke-width', 2.5).attr('stroke-dasharray', '2,2');
dots.append('path').attr('d', 'M' + x2(2003) + ',' + (p2.b + 2) + 'L' + (x2(2003) - 45) + ',659L215,659L' + x3(2003) + ',' + (p3.t - 2));
dots.append('path').attr('d', 'M' + p3.r + ',' + (p2.b + 2) + 'L' + p3.r + ',' + (p3.t - 2));

// ===== panel 4 =====
var p4 = { l: 174, r: 1273, t: 1012, b: 1210 };
var x4 = d3.scaleLinear().domain([2003, 2007]).range([174, 1265]);
var y4 = d3.scaleLinear().domain([0, 100]).range([p4.b, p4.t]);
var g4 = svg.append('g');
d3.range(10, 100, 10).forEach(function(v){ hline(g4, p4.l, p4.r, y4(v), '#000', 1); });
g4.selectAll('path.t').data(temp4).enter().append('path')
  .attr('d', diamond(6, 7)).attr('fill', '#000')
  .attr('transform', function(d){ return 'translate(' + x4(d[0]) + ',' + y4(d[1]) + ')'; });
hline(g4, p4.l, p4.r, p4.t, '#000', 2.5);
hline(g4, p4.l, p4.r, p4.b, '#000', 2.5);
vline(g4, p4.l, p4.t, p4.b, '#000', 2.5);
vline(g4, p4.r, p4.t, p4.b, '#000', 2);
tickAxis(g4, d3.axisTop(x4).tickValues(m3).tickSize(6), 0, p4.t, '#000');
tickAxis(g4, d3.axisBottom(x4).tickValues(m3).tickSize(6), 0, p4.b, '#000');
tickAxis(g4, d3.axisBottom(x4).tickValues(h3).tickSize(10), 0, p4.b, '#000');
tickAxis(g4, d3.axisLeft(y4).tickValues(d3.range(0, 101, 10)).tickSize(5), p4.l, 0, '#000');
[0, 20, 40, 60, 80, 100].forEach(function(v){ addText(g4, 152, y4(v) + 7, v, 19, 'end'); });
monthLabels.forEach(function(s, i){ addText(g4, x4(2003 + i / 2) + 12, 1248, s, 19, 'middle'); });
addText(g4, 140, 991, '℃', 18, 'start', 'jp', '#333');
addText(g4, 208, 988, '中岳第一火口湯だまりの表面温度', 27.6, 'start', 'jp');

// ===== panel 5 =====
var p5 = { l: 172, r: 1280, t: 1360, b: 1519 };
var x5 = d3.scaleLinear().domain([2003, 2007]).range([175, 1271]);
var y5 = d3.scaleLinear().domain([0, 5]).range([p5.b, p5.t]);
var g5 = svg.append('g');
[1, 2, 3, 4].forEach(function(v){ hline(g5, p5.l, p5.r, y5(v), '#000', 1); });
g5.selectAll('line.sp').data(ampSpikes).enter().append('line')
  .attr('x1', function(d){ return x5(d[0]); }).attr('x2', function(d){ return x5(d[0]); })
  .attr('y1', y5(0)).attr('y2', function(d){ return Math.max(p5.t, y5(d[1])); })
  .attr('stroke', '#000').attr('stroke-width', 1.6);
var area5 = d3.area().x(function(d){ return x5(d[0]); })
  .y0(function(d){ return y5(d[1]); }).y1(function(d){ return y5(d[2]); });
g5.append('path').datum(ampBand).attr('d', area5).attr('fill', '#000').attr('stroke', '#000').attr('stroke-width', 1);

var ym = y5(4.62);
g5.selectAll('line.per').data(tremorPeriods).enter().append('line')
  .attr('x1', function(d){ return x5(d[0]); }).attr('x2', function(d){ return x5(d[1]); })
  .attr('y1', ym).attr('y2', ym).attr('stroke', '#000').attr('stroke-width', 2).attr('stroke-dasharray', '6,5');
g5.selectAll('rect.blk').data(tremorBlocks).enter().append('rect')
  .attr('x', function(d){ return x5(d[0]); }).attr('width', function(d){ return x5(d[1]) - x5(d[0]); })
  .attr('y', ym - 7).attr('height', 14).attr('fill', '#000');
g5.selectAll('path.plus').data(tremorPlus).enter().append('path')
  .attr('d', 'M0,-7V7M-6,0H6').attr('stroke', '#000').attr('stroke-width', 1.8)
  .attr('transform', function(d){ return 'translate(' + x5(d) + ',' + ym + ')'; });
g5.selectAll('path.er').data(eruptions).enter().append('path')
  .attr('d', 'M0,-11L9,9L-9,9Z').attr('fill', '#000')
  .attr('transform', function(d){ return 'translate(' + x5(d) + ',' + ym + ')'; });

hline(g5, p5.l, p5.r, p5.t, '#000', 2);
hline(g5, p5.l, p5.r, p5.b + 3, '#aaa', 3);
hline(g5, p5.l, p5.r, p5.b, '#000', 3);
vline(g5, p5.l, p5.t, p5.b, '#000', 2);
vline(g5, p5.r, p5.t, p5.b, '#000', 2);
tickAxis(g5, d3.axisBottom(x5).tickValues(m3).tickSize(7), 0, p5.b, '#000');
tickAxis(g5, d3.axisBottom(x5).tickValues(h3).tickSize(12), 0, p5.b, '#000');
tickAxis(g5, d3.axisLeft(y5).tickValues(d3.range(0, 6)).tickSize(5), p5.l, 0, '#000');
[0, 1, 2, 3, 4, 5].forEach(function(v){ addText(g5, 152, y5(v) + 7, v, 18, 'end', 'narrow'); });
monthLabels.forEach(function(s, i){ addText(g5, x5(2003 + i / 2) + 12, 1565, s, 18, 'middle', 'narrow'); });
var unit = addText(g5, 108, 1333, '', 21, 'start', 'narrow');
unit.append('tspan').attr('font-style', 'italic').attr('font-family', 'DejaVu Serif').text('μ');
unit.append('tspan').text(' m/s');
addText(g5, 195, 1334, '30 分間平均振幅(A 点南北成分)', 27.5, 'start', 'jp');
addText(g5, 778, 1330, '[', 22, 'start', 'jp');
addText(g5, 800, 1330, '+：微動、+---+：微動増大期間、', 23, 'start', 'jp');
addText(g5, 1182, 1330, '：噴火', 22, 'start', 'jp');
addText(g5, 1262, 1330, ']', 22, 'start', 'jp');
</script>
</body>
</html>
